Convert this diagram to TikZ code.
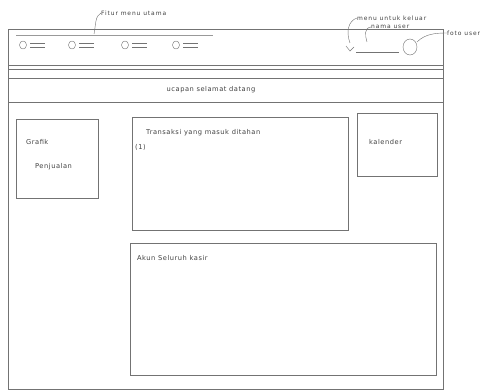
\documentclass[tikz,border=0pt]{standalone}
\usepackage{fontspec}
\setsansfont{DejaVu Sans}
\usepackage{tikz}
\usetikzlibrary{positioning}

\tikzset{
  pencil/.style={draw=black!55, line width=0.6pt},
  sketchtext/.style={text=black!75, font=\sffamily\fontsize{9.5}{11}\selectfont\addfontfeature{LetterSpace=8}, inner sep=0pt},
  smalltext/.style={text=black!75, font=\sffamily\fontsize{8.5}{9}\selectfont\addfontfeature{LetterSpace=15}, inner sep=0pt}
}

\begin{document}
\begin{tikzpicture}[x=0.05cm, y=-0.05cm]
			\useasboundingbox (0,0) rectangle (504,391);
			% frame of the page
			\draw [pencil] (8,29) -- (443,29) -- (443,389) -- (8,389) -- cycle;
			\draw [pencil] (8,65) -- (443,65);
			\draw [pencil] (8,69) -- (443,69);
			\draw [pencil] (8,78) -- (443,78);
			\draw [pencil] (8,102) -- (443,102);
			% main menu items
			\draw [pencil, black!40] (16,35) -- (213,35);
			\foreach \x in {23,72,125,176} {
				\draw [pencil] (\x,45) ellipse (3.5 and 4);
				\draw [pencil] (\x+7,43) -- (\x+22,43);
				\draw [pencil] (\x+7,47.5) -- (\x+22,47.5);
			}
			\node [smalltext, anchor=west] (menu) at (101,13) {Fitur menu utama};
			\coordinate (menutip) at (94,34);
			\draw [pencil] (menutip) .. controls (96,24) and (95,16) .. (menu.west);
			% user area
			\node [smalltext, anchor=west] (logout) at (357,18) {menu untuk keluar};
			\node [smalltext, anchor=west] (nama) at (371,27) {nama user};
			\node [smalltext, anchor=west] (foto) at (447,33) {foto user};
			\draw [pencil] (346,46) -- (350,51) -- (354,47);
			\draw [pencil] (356,52) -- (399,52);
			\draw [pencil] (410,47) ellipse (7 and 8);
			\coordinate (logouttip) at (350,43);
			\coordinate (namatip) at (367,42);
			\draw [pencil] (logouttip) .. controls (346,32) and (348,21) .. (logout.west);
			\draw [pencil] (namatip) .. controls (365,35) and (364,28) .. (nama.west);
			\draw [pencil] (417,42) .. controls (425,34) and (435,33) .. (foto.west);
			% greeting
			\node [sketchtext] (ucapan) at (211,90) {ucapan selamat datang};
			% content boxes
			\draw [pencil] (16,119) rectangle (98,198);
			\node [sketchtext, anchor=west] (grafik) at (26,142) {Grafik};
			\node [sketchtext, anchor=west] (penjualan) at (35,167) {Penjualan};
			\draw [pencil] (132,117) rectangle (348,230);
			\node [sketchtext, anchor=west] (transaksi) at (146,133) {Transaksi yang masuk ditahan};
			\node [sketchtext, anchor=west] (jumlah) at (135,147) {(1)};
			\draw [pencil] (357,113) rectangle (437,176);
			\node [sketchtext, anchor=west] (kalender) at (369,142) {kalender};
			\draw [pencil] (130,243) rectangle (436,375);
			\node [sketchtext, anchor=west] (akun) at (137,258) {Akun Seluruh kasir};
\end{tikzpicture}
\end{document}
